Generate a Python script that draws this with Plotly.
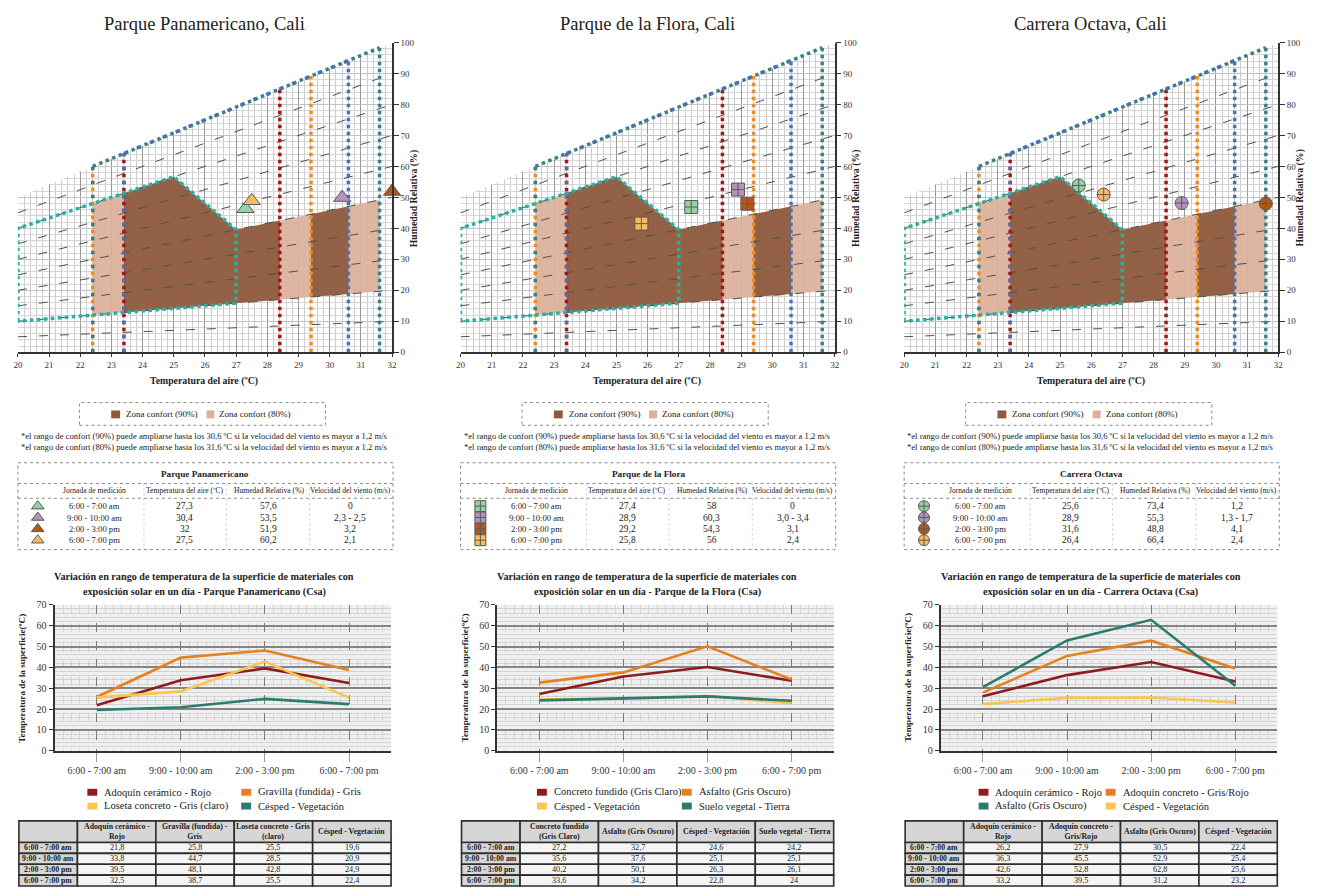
import plotly.graph_objects as go

W, H = 1323, 890
FONT = "Liberation Serif, DejaVu Serif, serif"

# ---------------- data ----------------
SITE_TITLES = ["Parque Panamericano, Cali", "Parque de la Flora, Cali", "Carrera Octava, Cali"]
SITE_NAMES = ["Parque Panamericano", "Parque de la Flora", "Carrera Octava"]
TIMES = ["6:00 - 7:00 am", "9:00 - 10:00 am", "2:00 - 3:00 pm", "6:00 - 7:00 pm"]

# air temperature (ºC), relative humidity (%) and wind speed (m/s) per site
pana_air_temp = [27.3, 30.4, 32, 27.5]
pana_rh = [57.6, 53.5, 51.9, 60.2]
pana_wind = ["0", "2,3 - 2,5", "3,2", "2,1"]

flora_air_temp = [27.4, 28.9, 29.2, 25.8]
flora_rh = [58, 60.3, 54.3, 56]
flora_wind = ["0", "3,0 - 3,4", "3,1", "2,4"]

octava_air_temp = [25.6, 28.9, 31.6, 26.4]
octava_rh = [73.4, 55.3, 48.8, 66.4]
octava_wind = ["1,2", "1,3 - 1,7", "4,1", "2,4"]

# surface temperature of materials (ºC)
pana_materials = ["Adoquín cerámico - Rojo", "Gravilla (fundida) - Gris",
                  "Loseta concreto - Gris (claro)", "Césped - Vegetación"]
pana_adoquin_ceramico = [21.8, 33.8, 39.5, 32.5]
pana_gravilla = [25.8, 44.7, 48.1, 38.7]
pana_loseta = [25.5, 28.5, 42.8, 25.5]
pana_cesped = [19.6, 20.9, 24.9, 22.4]

flora_materials = ["Concreto fundido (Gris Claro)", "Asfalto (Gris Oscuro)",
                   "Césped - Vegetación", "Suelo vegetal - Tierra"]
flora_concreto = [27.2, 35.6, 40.2, 33.6]
flora_asfalto = [32.7, 37.6, 50.1, 34.2]
flora_cesped = [24.6, 25.1, 26.3, 22.8]
flora_suelo = [24.2, 25.1, 26.1, 24]

octava_materials = ["Adoquín cerámico - Rojo", "Adoquín concreto - Gris/Rojo",
                    "Asfalto (Gris Oscuro)", "Césped - Vegetación"]
octava_adoquin_ceramico = [26.2, 36.3, 42.6, 33.2]
octava_adoquin_concreto = [27.9, 45.5, 52.8, 39.5]
octava_asfalto = [30.5, 52.9, 62.8, 31.2]
octava_cesped = [22.4, 25.4, 25.6, 23.2]

# column headers of the surface tables (wrapped as printed)
pana_headers = ["Adoquín cerámico -<br>Rojo", "Gravilla (fundida) -<br>Gris",
                "Loseta concreto - Gris<br>(claro)", "Césped - Vegetación"]
flora_headers = ["Concreto fundido<br>(Gris Claro)", "Asfalto (Gris Oscuro)",
                 "Césped - Vegetación", "Suelo vegetal - Tierra"]
octava_headers = ["Adoquín cerámico -<br>Rojo", "Adoquín concreto -<br>Gris/Rojo",
                  "Asfalto (Gris Oscuro)", "Césped - Vegetación"]

# psychrometric frame: upper (saturation) boundary in axis units
SAT_T = [20, 32]
SAT_Y = [50, 100]
RH_CURVES = [10, 20, 30, 40, 50, 60, 70, 80, 90]

# comfort zone limits
T80 = [22.4, 29.4]        # comfort 80 %
T90 = [23.4, 28.4]        # comfort 90 %
T90_WIND = 30.6           # 90 % with wind > 1,2 m/s
T80_WIND = 31.6           # 80 % with wind > 1,2 m/s
T_PEAK, T_KNEE = 25, 27
RH_LOW, RH_MID, RH_HIGH = 20, 50, 80
T_EXT_MIN = 20

# ---------------- styling ----------------
C_DARK = "#8d5a3f"
C_LIGHT = "#dcb09a"
C_TURQ = "#22b3a6"
C_RED = "#a3161b"
C_ORANGE = "#f08c1e"
C_BLUE = "#4d70b3"
C_TEAL = "#3b8087"
TIME_COLORS = ["#92d2a5", "#b592bb", "#b4561e", "#f6bb5d"]
SYMBOLS = ["triangle-up", "square-cross", "circle-cross"]

L_RED = "#8e1b1e"
L_ORANGE = "#e5801f"
L_YELLOW = "#fcc54e"
L_TEAL = "#2a7b70"

OFFS = [0, 446, 893]


def X(p):
    return p / W


def Y(p):
    return 1 - p / H


def sat(t):
    return SAT_Y[0] + (SAT_Y[1] - SAT_Y[0]) * (t - SAT_T[0]) / (SAT_T[1] - SAT_T[0])


def rh_y(t, rh):
    return rh / 100.0 * sat(t)


def fmt(v):
    return ("%g" % v).replace(".", ",")


fig = go.Figure()
shapes = []
anns = []


def text(s, x, y, size=10, bold=False, xa="center", ya="middle", color="#222",
         angle=0, align="center"):
    if bold:
        s = "<b>%s</b>" % s
    anns.append(dict(text=s, x=X(x), y=Y(y), xref="paper", yref="paper",
                     xanchor=xa, yanchor=ya, showarrow=False, align=align,
                     textangle=angle, font=dict(family=FONT, size=size, color=color)))


def rect(x0, y0, x1, y1, fill=None, line="#333", width=1, dash="solid", layer="above"):
    shapes.append(dict(type="rect", xref="paper", yref="paper",
                       x0=X(x0), x1=X(x1), y0=Y(y1), y1=Y(y0),
                       fillcolor=fill or "rgba(0,0,0,0)", layer=layer,
                       line=dict(color=line, width=width, dash=dash)))


def seg(x0, y0, x1, y1, color="#888", width=1, dash="solid"):
    shapes.append(dict(type="line", xref="paper", yref="paper",
                       x0=X(x0), x1=X(x1), y0=Y(y0), y1=Y(y1),
                       line=dict(color=color, width=width, dash=dash)))


def akey(prefix, n):
    return prefix if n == 1 else "%s%d" % (prefix, n)


sites = [
    dict(temp=pana_air_temp, rh=pana_rh, wind=pana_wind,
         series=[pana_adoquin_ceramico, pana_gravilla, pana_loseta, pana_cesped],
         names=pana_materials, colors=[L_RED, L_ORANGE, L_YELLOW, L_TEAL],
         headers=pana_headers, leg_x=[83, 238]),
    dict(temp=flora_air_temp, rh=flora_rh, wind=flora_wind,
         series=[flora_concreto, flora_asfalto, flora_cesped, flora_suelo],
         names=flora_materials, colors=[L_RED, L_ORANGE, L_YELLOW, L_TEAL],
         headers=flora_headers, leg_x=[90, 236]),
    dict(temp=octava_air_temp, rh=octava_rh, wind=octava_wind,
         series=[octava_adoquin_ceramico, octava_adoquin_concreto, octava_asfalto, octava_cesped],
         names=octava_materials, colors=[L_RED, L_ORANGE, L_TEAL, L_YELLOW],
         headers=octava_headers, leg_x=[88, 216]),
]

layout_axes = {}

# overlay axis in pixel units for the table icons
layout_axes["xaxis7"] = dict(domain=[0, 1], range=[0, W], visible=False, fixedrange=True)
layout_axes["yaxis7"] = dict(domain=[0, 1], range=[H, 0], visible=False, fixedrange=True)

for i, site in enumerate(sites):
    ox = OFFS[i]
    npsy, nline = 2 * i + 1, 2 * i + 2
    xp, yp = akey("x", npsy), akey("y", npsy)
    xl, yl = akey("x", nline), akey("y", nline)

    # ----------- psychrometric chart -----------
    def add(tr):
        tr.update(xaxis=xp, yaxis=yp, showlegend=False, hoverinfo="skip")
        fig.add_trace(tr)

    def poly(ts, rhs, color):
        add(go.Scatter(x=ts + [ts[0]], y=[rh_y(t, r) for t, r in zip(ts, rhs)] + [rh_y(ts[0], rhs[0])],
                       mode="lines", fill="toself", fillcolor=color, line=dict(width=0),
                       opacity=0.92))

    poly([T80[0], T80_WIND, T80_WIND, T_KNEE, T_PEAK, T80[0]],
         [RH_LOW, RH_LOW, RH_MID, RH_MID, RH_HIGH, RH_HIGH], C_LIGHT)
    poly([T90[0], T90[1], T90[1], T_KNEE, T_PEAK, T90[0]],
         [RH_LOW, RH_LOW, RH_MID, RH_MID, RH_HIGH, RH_HIGH], C_DARK)
    poly([T80[1], T90_WIND, T90_WIND, T80[1]],
         [RH_LOW, RH_LOW, RH_MID, RH_MID], C_DARK)

    # relative humidity curves
    for rh in RH_CURVES:
        add(go.Scatter(x=SAT_T, y=[rh_y(t, rh) for t in SAT_T], mode="lines",
                       line=dict(color="#505050", width=1, dash="9px,12px")))

    # comfort limits (dotted)
    def dotted(ts, ys, color, dash="3.5px,3.5px"):
        add(go.Scatter(x=ts, y=ys, mode="lines",
                       line=dict(color=color, width=3.5, dash=dash)))

    for t in T80:
        dotted([t, t], [0, sat(t)], C_ORANGE)
    for t in T90:
        dotted([t, t], [0, sat(t)], C_RED)
    dotted([T80[0], T80_WIND], [sat(T80[0]), sat(T80_WIND)], C_TEAL)
    dotted([T90[0], T90_WIND], [sat(T90[0]), sat(T90_WIND)], C_BLUE, "3.5px,10.5px")
    dotted([T80[0], T80[0]], [0, sat(T80[0])], C_TEAL, "3.5px,10.5px")
    dotted([T90[0], T90[0]], [0, sat(T90[0])], C_BLUE, "3.5px,10.5px")
    dotted([T90_WIND, T90_WIND], [0, sat(T90_WIND)], C_BLUE)
    dotted([T80_WIND, T80_WIND], [0, sat(T80_WIND)], C_TEAL)

    # extended comfort outline
    ext_t = [T_EXT_MIN, T_EXT_MIN, T_PEAK, T_KNEE, T_KNEE, T_EXT_MIN]
    ext_rh = [RH_LOW, RH_HIGH, RH_HIGH, RH_MID, RH_LOW, RH_LOW]
    dotted(ext_t, [rh_y(t, r) for t, r in zip(ext_t, ext_rh)], C_TURQ)

    # measurements
    add(go.Scatter(x=site["temp"], y=[rh_y(t, r) for t, r in zip(site["temp"], site["rh"])],
                   mode="markers", cliponaxis=False,
                   marker=dict(symbol=SYMBOLS[i], size=15 if i == 0 else 13,
                               color=TIME_COLORS, line=dict(color="#5a5a5a", width=1))))

    # white mask above the saturation boundary
    shapes.append(dict(type="path", xref=xp, yref=yp, layer="between",
                       path="M %g,%g L %g,%g L %g,%g L %g,%g Z" % (
                           SAT_T[0], sat(SAT_T[0]), SAT_T[1], sat(SAT_T[1]),
                           SAT_T[1], 103, SAT_T[0], 103),
                       fillcolor="white", line=dict(width=0)))

    layout_axes[akey("xaxis", npsy)] = dict(
        domain=[X(13 + ox), X(390 + ox)], range=SAT_T, anchor=yp,
        tickvals=list(range(20, 33)), ticks="outside", ticklen=3, tickcolor="#333",
        showline=True, linecolor="#333", linewidth=1.5,
        showgrid=True, gridcolor="#9a9a9a", gridwidth=1,
        minor=dict(dtick=0.2, showgrid=True, gridcolor="#cdcdcd", gridwidth=0.7),
        tickfont=dict(family=FONT, size=9, color="#333"), zeroline=False, fixedrange=True)
    layout_axes[akey("yaxis", npsy)] = dict(
        domain=[Y(351), Y(37)], range=[0, 100], anchor=xp, side="right",
        dtick=10, ticks="outside", ticklen=5, tickcolor="#333",
        showline=True, linecolor="#333", linewidth=1.5,
        showgrid=True, gridcolor="#c4c4c4", gridwidth=0.8,
        minor=dict(dtick=2, showgrid=True, gridcolor="#d6d6d6", gridwidth=0.7),
        tickfont=dict(family=FONT, size=9, color="#333"), zeroline=False, fixedrange=True)

    cx = 201 + ox
    text(SITE_TITLES[i], cx, 18, size=18.5, color="#222")
    text("Temperatura del aire (ºC)", cx, 380, size=9.8, bold=True)
    text("Humedad Relativa (%)", 412 + ox, 195, size=9.8, bold=True, angle=-90)

    # legend of comfort zones
    rect(75 + ox, 402, 323 + ox, 425, line="#8a8a8a", width=1, dash="3px,3px")
    rect(107 + ox, 410, 116 + ox, 418, fill=C_DARK, line=C_DARK, width=0)
    text("Zona confort (90%)", 120 + ox, 414, size=9, xa="left")
    rect(203 + ox, 410, 211 + ox, 418, fill=C_LIGHT, line=C_LIGHT, width=0)
    text("Zona confort (80%)", 214 + ox, 414, size=9, xa="left")

    text("*el rango de confort (90%) puede ampliarse hasta los 30,6 ºC si la velocidad del viento es mayor a 1,2 m/s",
         14 + ox, 436, size=8.6, xa="left")
    text("*el rango de confort (80%) puede ampliarse hasta los 31,6 ºC si la velocidad del viento es mayor a 1,2 m/s",
         14 + ox, 447, size=8.6, xa="left")

    # ----------- measurement table -----------
    rect(13 + ox, 463, 391 + ox, 551, line="#8a8a8a", width=1, dash="3px,3px")
    seg(13 + ox, 484, 391 + ox, 484, color="#8a8a8a", dash="3px,3px")
    seg(13 + ox, 499, 391 + ox, 499, color="#8a8a8a", dash="3px,3px")
    for vx in (140, 223, 307):
        seg(vx + ox, 484, vx + ox, 551, color="#c8c8c8", dash="2px,3px")
    text(SITE_NAMES[i], 202 + ox, 474, size=9.2, bold=True)
    for hx, ht in zip((90, 181, 266, 348),
                      ("Jornada de medición", "Temperatura del aire (ºC)",
                       "Humedad Relativa (%)", "Velocidad del viento (m/s)")):
        text(ht, hx + ox, 491.5, size=7.6)
    row_y = [507, 518.5, 530, 541.5]
    for r in range(4):
        text(TIMES[r], 90 + ox, row_y[r], size=8.6)
        text(fmt(site["temp"][r]), 181 + ox, row_y[r], size=9.5)
        text(fmt(site["rh"][r]), 266 + ox, row_y[r], size=9.5)
        text(site["wind"][r], 348 + ox, row_y[r], size=9.5)
    fig.add_trace(go.Scatter(x=[33 + ox] * 4, y=row_y, xaxis="x7", yaxis="y7",
                             mode="markers", cliponaxis=False, showlegend=False, hoverinfo="skip",
                             marker=dict(symbol=SYMBOLS[i], size=11, color=TIME_COLORS,
                                         line=dict(color="#5a5a5a", width=1))))

    # ----------- surface temperature chart -----------
    text("Variación en rango de temperatura de la superficie de materiales con", cx, 578, size=10.2, bold=True)
    text("exposición solar en un día - %s (Csa)" % SITE_NAMES[i], cx, 594, size=10.2, bold=True)

    for vals, name, col in zip(site["series"], site["names"], site["colors"]):
        fig.add_trace(go.Scatter(x=list(range(4)), y=vals, xaxis=xl, yaxis=yl, mode="lines",
                                 name=name, showlegend=False, line=dict(color=col, width=2.6)))

    shapes.append(dict(type="rect", xref=xl + " domain", yref=yl + " domain",
                       x0=0, x1=1, y0=0, y1=1, fillcolor="#efefef",
                       line=dict(width=0), layer="below"))
    layout_axes[akey("xaxis", nline)] = dict(
        domain=[X(50 + ox), X(389 + ox)], range=[-0.5, 3.5], anchor=yl,
        tickvals=[0, 1, 2, 3], ticktext=TIMES, ticks="outside", ticklen=9, tickcolor="#9a9a9a",
        showgrid=True, gridcolor="#7a7a7a", gridwidth=1, griddash="dash",
        minor=dict(tickmode="linear", tick0=-0.5, dtick=0.1, showgrid=True,
                   gridcolor="#d3d3d3", gridwidth=0.6),
        showline=True, linecolor="#333", linewidth=2, zeroline=False,
        tickfont=dict(family=FONT, size=10, color="#333"), fixedrange=True)
    layout_axes[akey("yaxis", nline)] = dict(
        domain=[Y(755), Y(607)], range=[0, 70], anchor=xl, dtick=10,
        ticks="outside", ticklen=4, tickcolor="#333",
        showgrid=True, gridcolor="#858585", gridwidth=1.8,
        minor=dict(dtick=2, showgrid=True, gridcolor="#d3d3d3", gridwidth=0.6),
        showline=True, linecolor="#333", linewidth=2, zeroline=False,
        tickfont=dict(family=FONT, size=10, color="#333"), fixedrange=True)
    text("Temperatura de la superficie(ºC)", 17 + ox, 681, size=9.2, bold=True, angle=-90)

    # legend of materials
    lx = site["leg_x"]
    for k, (name, col) in enumerate(zip(site["names"], site["colors"])):
        sx = lx[k % 2] + ox
        sy = 797 if k < 2 else 811
        rect(sx, sy - 3.5, sx + 10, sy + 3.5, fill=col, line=col, width=0)
        text(name, sx + 15, sy, size=10.5, xa="left")

    # ----------- surface temperature table -----------
    cols = [14, 73, 152, 231, 310, 389]
    rows = [826, 848, 859, 870, 881, 892]
    for c in range(5):
        for r in range(5):
            if r == 0 or c == 0:
                fill = "#d6d6d6"
            else:
                fill = "#f5f5f5"
            rect(cols[c] + ox, rows[r], cols[c + 1] + ox, rows[r + 1], fill=fill,
                 line="#2e2e2e", width=1.6)
    for c in range(4):
        text(site["headers"][c], (cols[c + 1] + cols[c + 2]) / 2 + ox, 837, size=7.8, bold=True)
    for r in range(4):
        cy = (rows[r + 1] + rows[r + 2]) / 2
        text(TIMES[r], (cols[0] + cols[1]) / 2 + ox, cy, size=7.8, bold=True)
        for c in range(4):
            text(fmt(site["series"][c][r]), (cols[c + 1] + cols[c + 2]) / 2 + ox, cy, size=8.2)

fig.update_layout(
    width=W, height=H, margin=dict(l=0, r=0, t=0, b=0),
    paper_bgcolor="white", plot_bgcolor="rgba(0,0,0,0)",
    font=dict(family=FONT, color="#222"),
    shapes=shapes, annotations=anns, showlegend=False,
    **layout_axes)

fig.write_html("out.html")
